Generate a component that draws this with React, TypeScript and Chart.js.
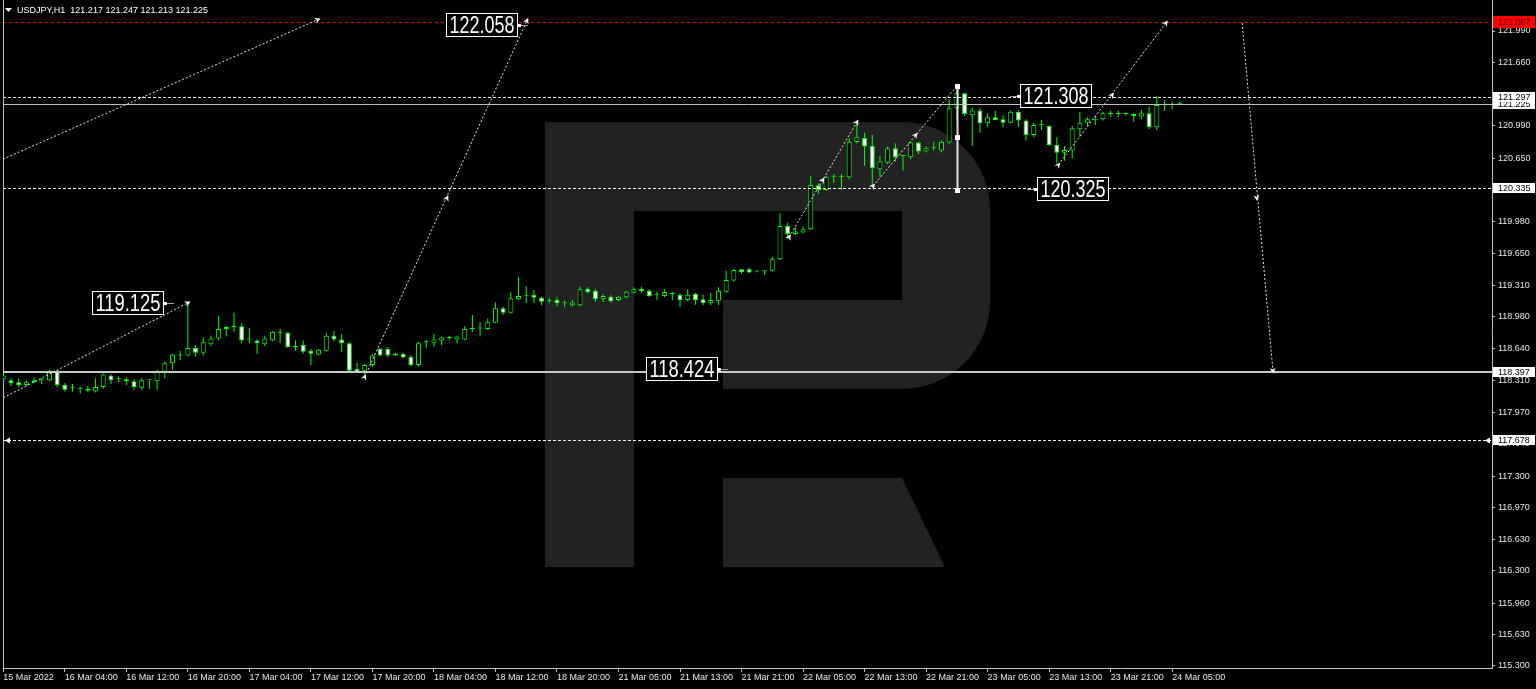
import React, { useEffect, useRef } from "react";
import { Chart, registerables } from "chart.js";

Chart.register(...registerables);

// ---------- data ----------
const symbolTitle = "USDJPY,H1  121.217 121.247 121.213 121.225";

const opens = [
  118.32, 118.31, 118.29, 118.26, 118.29, 118.31, 118.31, 118.41, 118.26, 118.23,
  118.22, 118.22, 118.19, 118.24, 118.36, 118.32, 118.32, 118.30, 118.23, 118.31,
  118.30, 118.40, 118.49, 118.57, 118.57, 118.65, 118.60, 118.69, 118.75, 118.85,
  118.87, 118.88, 118.74, 118.73, 118.69, 118.73, 118.81, 118.81, 118.67, 118.68,
  118.62, 118.58, 118.62, 118.78, 118.74, 118.70, 118.43, 118.41, 118.47, 118.64,
  118.64, 118.59, 118.59, 118.555, 118.47, 118.71, 118.70, 118.73, 118.755, 118.74,
  118.74, 118.85, 118.86, 118.85, 118.917, 119.068, 119.022, 119.163, 119.20, 119.208,
  119.18, 119.15, 119.155, 119.12, 119.10, 119.10, 119.275, 119.254, 119.163, 119.19,
  119.155, 119.184, 119.233, 119.275, 119.254, 119.212, 119.198, 119.233, 119.212, 119.155,
  119.219, 119.163, 119.12, 119.148, 119.243, 119.36, 119.479, 119.479, 119.455, 119.465,
  119.465, 119.585, 119.936, 119.852, 119.866, 119.90, 120.364, 120.315, 120.455, 120.455,
  120.448, 120.82, 120.863, 120.78, 120.533, 120.603, 120.754, 120.673, 120.659, 120.814,
  120.719, 120.754, 120.73, 120.814, 121.175, 121.333, 121.102, 121.151, 121.017, 121.081,
  121.06, 121.024, 121.14, 121.046, 120.894, 121.0, 120.989, 120.789, 120.708, 120.73,
  120.954, 121.024, 121.05, 121.06, 121.116, 121.116, 121.116, 121.116, 121.088, 121.123,
  120.975, 121.21, 121.21, 121.217,
];
const highs = [
  118.38, 118.33, 118.33, 118.31, 118.34, 118.33, 118.42, 118.42, 118.28, 118.27,
  118.24, 118.25, 118.33, 118.38, 118.37, 118.35, 118.34, 118.32, 118.33, 118.31,
  118.42, 118.51, 118.59, 118.62, 119.12, 118.68, 118.76, 118.78, 118.99, 118.88,
  119.02, 118.91, 118.86, 118.74, 118.78, 118.83, 118.85, 118.82, 118.73, 118.73,
  118.64, 118.64, 118.81, 118.83, 118.80, 118.71, 118.50, 118.48, 118.59, 118.65,
  118.66, 118.60, 118.60, 118.576, 118.717, 118.734, 118.80, 118.77, 118.776, 118.78,
  118.88, 118.998, 118.924, 118.96, 119.128, 119.085, 119.243, 119.401, 119.30, 119.26,
  119.19, 119.175, 119.19, 119.15, 119.155, 119.296, 119.29, 119.275, 119.22, 119.205,
  119.198, 119.254, 119.289, 119.296, 119.268, 119.243, 119.268, 119.236, 119.226, 119.268,
  119.233, 119.212, 119.233, 119.289, 119.465, 119.479, 119.479, 119.493, 119.465, 119.47,
  119.613, 120.07, 119.971, 119.922, 119.929, 120.463, 120.385, 120.463, 120.484, 120.484,
  120.86, 121.035, 120.919, 120.894, 120.673, 120.772, 120.807, 120.68, 120.824, 120.824,
  120.779, 120.824, 120.835, 121.27, 121.41, 121.34, 121.186, 121.175, 121.123, 121.151,
  121.10, 121.151, 121.151, 121.06, 121.025, 121.053, 120.996, 120.87, 120.779, 120.989,
  121.137, 121.081, 121.095, 121.137, 121.151, 121.151, 121.13, 121.123, 121.158, 121.193,
  121.305, 121.263, 121.245, 121.247,
];
const lows = [
  118.30, 118.25, 118.24, 118.25, 118.28, 118.27, 118.30, 118.24, 118.19, 118.19,
  118.17, 118.19, 118.18, 118.22, 118.27, 118.29, 118.26, 118.21, 118.21, 118.22,
  118.21, 118.33, 118.42, 118.52, 118.56, 118.56, 118.57, 118.67, 118.73, 118.77,
  118.82, 118.70, 118.70, 118.59, 118.67, 118.72, 118.70, 118.65, 118.62, 118.59,
  118.47, 118.57, 118.61, 118.72, 118.61, 118.40, 118.39, 118.34, 118.45, 118.56,
  118.55, 118.57, 118.54, 118.46, 118.453, 118.646, 118.664, 118.68, 118.734, 118.70,
  118.73, 118.82, 118.77, 118.84, 118.91, 118.998, 119.015, 119.155, 119.12, 119.12,
  119.10, 119.12, 119.09, 119.08, 119.085, 119.09, 119.226, 119.138, 119.134, 119.127,
  119.141, 119.17, 119.226, 119.226, 119.184, 119.156, 119.184, 119.156, 119.085, 119.141,
  119.106, 119.099, 119.099, 119.103, 119.233, 119.349, 119.43, 119.437, 119.444, 119.42,
  119.454, 119.578, 119.795, 119.841, 119.859, 119.894, 120.273, 120.308, 120.392, 120.315,
  120.427, 120.807, 120.568, 120.357, 120.455, 120.589, 120.614, 120.519, 120.638, 120.694,
  120.709, 120.73, 120.709, 120.80, 121.06, 121.095, 120.779, 120.919, 120.975, 121.046,
  120.975, 121.017, 120.982, 120.835, 120.87, 120.947, 120.779, 120.596, 120.624, 120.649,
  120.877, 120.989, 121.0, 121.046, 121.081, 121.081, 121.10, 121.035, 121.06, 120.954,
  120.947, 121.151, 121.165, 121.213,
];
const closes = [
  118.36, 118.28, 118.26, 118.29, 118.31, 118.31, 118.41, 118.26, 118.21, 118.23,
  118.22, 118.20, 118.24, 118.37, 118.31, 118.32, 118.30, 118.24, 118.31, 118.31,
  118.41, 118.49, 118.58, 118.57, 118.65, 118.60, 118.71, 118.75, 118.85, 118.87,
  118.87, 118.73, 118.74, 118.70, 118.75, 118.82, 118.81, 118.66, 118.66, 118.61,
  118.59, 118.63, 118.78, 118.74, 118.70, 118.41, 118.40, 118.47, 118.57, 118.57,
  118.57, 118.57, 118.55, 118.47, 118.70, 118.71, 118.74, 118.76, 118.755, 118.77,
  118.85, 118.85, 118.855, 118.92, 119.068, 119.022, 119.173, 119.198, 119.205, 119.18,
  119.138, 119.148, 119.12, 119.12, 119.13, 119.268, 119.24, 119.163, 119.198, 119.141,
  119.19, 119.243, 119.268, 119.247, 119.198, 119.21, 119.24, 119.215, 119.155, 119.212,
  119.155, 119.12, 119.155, 119.254, 119.366, 119.472, 119.451, 119.444, 119.455, 119.465,
  119.585, 119.936, 119.852, 119.876, 119.90, 120.368, 120.315, 120.455, 120.455, 120.46,
  120.824, 120.877, 120.772, 120.543, 120.614, 120.754, 120.659, 120.673, 120.814, 120.719,
  120.754, 120.757, 120.824, 121.175, 121.333, 121.116, 121.151, 121.017, 121.081, 121.053,
  121.024, 121.14, 121.046, 120.894, 121.0, 120.998, 120.789, 120.708, 120.736, 120.965,
  121.024, 121.06, 121.053, 121.123, 121.116, 121.12, 121.12, 121.095, 121.123, 120.975,
  121.21, 121.214, 121.214, 121.225,
];

const timeTickBars = [0, 8, 16, 24, 32, 40, 48, 56, 64, 72, 80, 88, 96, 104, 112, 120, 128, 136, 144, 152];
const timeTickLabels = [
  "15 Mar 2022", "16 Mar 04:00", "16 Mar 12:00", "16 Mar 20:00", "17 Mar 04:00",
  "17 Mar 12:00", "17 Mar 20:00", "18 Mar 04:00", "18 Mar 12:00", "18 Mar 20:00",
  "21 Mar 05:00", "21 Mar 13:00", "21 Mar 21:00", "22 Mar 05:00", "22 Mar 13:00",
  "22 Mar 21:00", "23 Mar 05:00", "23 Mar 13:00", "23 Mar 21:00", "24 Mar 05:00",
];
// visible price-scale ticks (121.320 / 120.320 are hidden under price tags)
const priceTicks = [
  121.99, 121.66, 120.99, 120.65, 119.98, 119.65, 119.31, 118.98,
  118.64, 118.31, 117.97, 117.64, 117.3, 116.97, 116.63, 116.3, 115.96, 115.63, 115.3,
];

// horizontal levels
const alertLevels = [122.087];
const dashedLevels = [121.297, 120.335, 117.678];
const bidLevels = [121.225];
const supportLevels = [118.397];
const alertTags = [122.087];
const plainTags = [121.225, 121.297, 120.335, 118.397, 117.678];

// forecast trend lines (bar index, price)
const trendFromBars = [-1, 0, 47, 102.2, 113.1, 137.2, 161.1];
const trendFromPrices = [120.605, 118.125, 118.345, 119.82, 120.357, 120.58, 122.075];
const trendToBars = [40.9, 24, 68.1, 111, 124, 151.2, 165.1];
const trendToPrices = [122.11, 119.125, 122.1, 121.03, 121.41, 122.075, 118.41];

// arrow marks on the trend lines
const arrowLine = [0, 1, 2, 2, 2, 3, 3, 3, 4, 4, 5, 5, 5, 6, 6];
const arrowBars = [40.9, 24, 47, 57.7, 68.1, 102.2, 106.55, 111, 113.1, 118.65, 137.2, 144.2, 151.2, 163.0, 165.1];
const arrowPrices = [122.11, 119.125, 118.345, 120.23, 122.1, 119.82, 120.42, 121.03, 120.357, 120.894, 120.58, 121.316, 122.075, 120.23, 118.41];

// selected vertical line with handles
const markerBars = [124];
const markerTopPrices = [121.41];
const markerMidPrices = [120.866];
const markerBottomPrices = [120.31];

// price text labels
const labelTexts = ["122.058", "119.125", "118.424", "121.308", "120.325"];
const labelBars = [57.57, 11.53, 83.58, 132.2, 134.42];
const labelPrices = [122.058, 119.125, 118.424, 121.308, 120.325];
const labelPointerRight = [true, true, true, false, false];

// ---------- component ----------
const FONT = '"Liberation Sans", Arial, sans-serif';

export default function App() {
  const ref = useRef<HTMLCanvasElement>(null);

  useEffect(() => {
    const canvas = ref.current;
    if (!canvas) return;
    const idx = opens.map((_, i) => i);
    const bodyFill = idx.map((i) => (closes[i] >= opens[i] ? "#000000" : "#ffffff"));

    const overlay = {
      id: "mt4overlay",
      beforeDraw(chart: any) {
        const ctx = chart.ctx as CanvasRenderingContext2D;
        ctx.save();
        ctx.fillStyle = "#000000";
        ctx.fillRect(0, 0, chart.width, chart.height);
        // watermark "R"
        ctx.fillStyle = "#222222";
        ctx.beginPath();
        ctx.moveTo(545, 122);
        ctx.lineTo(902, 122);
        ctx.arcTo(990, 122, 990, 210, 88);
        ctx.lineTo(990, 301);
        ctx.arcTo(990, 389, 902, 389, 88);
        ctx.lineTo(723, 389);
        ctx.lineTo(723, 300);
        ctx.lineTo(902, 300);
        ctx.lineTo(902, 211);
        ctx.lineTo(634, 211);
        ctx.lineTo(634, 567);
        ctx.lineTo(545, 567);
        ctx.closePath();
        ctx.fill();
        ctx.beginPath();
        ctx.moveTo(723, 478);
        ctx.lineTo(902, 478);
        ctx.lineTo(945, 567);
        ctx.lineTo(723, 567);
        ctx.closePath();
        ctx.fill();
        // left frame line
        const ca = chart.chartArea;
        ctx.strokeStyle = "#c0c0c0";
        ctx.lineWidth = 1;
        ctx.beginPath();
        ctx.moveTo(ca.left + 0.5, ca.top);
        ctx.lineTo(ca.left + 0.5, ca.bottom);
        ctx.stroke();
        ctx.restore();
      },
      afterDatasetsDraw(chart: any) {
        const ctx = chart.ctx as CanvasRenderingContext2D;
        const xs = chart.scales.x;
        const ys = chart.scales.y;
        const ca = chart.chartArea;
        const X = (b: number) => xs.getPixelForValue(b);
        const Y = (p: number) => ys.getPixelForValue(p);

        ctx.save();
        ctx.beginPath();
        ctx.rect(ca.left + 1, ca.top, ca.right - ca.left - 1, ca.bottom - ca.top);
        ctx.clip();

        const hline = (p: number, color: string, dash: number[], width: number) => {
          const y = Math.round(Y(p)) + (width % 2 ? 0.5 : 0);
          ctx.strokeStyle = color;
          ctx.lineWidth = width;
          ctx.setLineDash(dash);
          ctx.beginPath();
          ctx.moveTo(ca.left, y);
          ctx.lineTo(ca.right, y);
          ctx.stroke();
        };
        alertLevels.forEach((p) => hline(p, "#ff0000", [3, 3], 1));
        dashedLevels.forEach((p) => hline(p, "#ffffff", [3, 2], 1));
        bidLevels.forEach((p) => hline(p, "#c0c0c0", [], 1));
        supportLevels.forEach((p) => hline(p, "#c8c8c8", [], 2));

        // trend lines
        ctx.setLineDash([2, 2]);
        ctx.strokeStyle = "#e8e8e8";
        ctx.lineWidth = 1;
        for (let i = 0; i < trendFromBars.length; i++) {
          ctx.beginPath();
          ctx.moveTo(X(trendFromBars[i]), Y(trendFromPrices[i]));
          ctx.lineTo(X(trendToBars[i]), Y(trendToPrices[i]));
          ctx.stroke();
        }
        ctx.setLineDash([]);

        // arrows
        ctx.fillStyle = "#ffffff";
        for (let k = 0; k < arrowBars.length; k++) {
          const li = arrowLine[k];
          const dx = X(trendToBars[li]) - X(trendFromBars[li]);
          const dy = Y(trendToPrices[li]) - Y(trendFromPrices[li]);
          const len = Math.hypot(dx, dy) || 1;
          const ux = dx / len;
          const uy = dy / len;
          const px = X(arrowBars[k]);
          const py = Y(arrowPrices[k]);
          ctx.beginPath();
          ctx.moveTo(px + ux * 3, py + uy * 3);
          ctx.lineTo(px - ux * 3 - uy * 3, py - uy * 3 + ux * 3);
          ctx.lineTo(px - ux * 1, py - uy * 1);
          ctx.lineTo(px - ux * 3 + uy * 3, py - uy * 3 - ux * 3);
          ctx.closePath();
          ctx.fill();
        }

        // arrows on lowest dashed level
        const ly = Math.round(Y(dashedLevels[2])) + 0.5;
        ctx.beginPath();
        ctx.moveTo(ca.left + 2, ly);
        ctx.lineTo(ca.left + 7, ly - 3);
        ctx.lineTo(ca.left + 7, ly + 3);
        ctx.closePath();
        ctx.fill();
        ctx.beginPath();
        ctx.moveTo(ca.right - 7, ly);
        ctx.lineTo(ca.right - 2, ly - 3);
        ctx.lineTo(ca.right - 2, ly + 3);
        ctx.closePath();
        ctx.fill();

        // selected vertical line with handles
        for (let i = 0; i < markerBars.length; i++) {
          const mx = Math.round(X(markerBars[i])) + 0.5;
          ctx.strokeStyle = "#e0e0e0";
          ctx.lineWidth = 2;
          ctx.beginPath();
          ctx.moveTo(mx, Y(markerTopPrices[i]));
          ctx.lineTo(mx, Y(markerBottomPrices[i]));
          ctx.stroke();
          ctx.fillStyle = "#ffffff";
          [markerTopPrices[i], markerMidPrices[i], markerBottomPrices[i]].forEach((p) => {
            ctx.fillRect(Math.round(mx - 2.5), Math.round(Y(p) - 2.5), 5, 5);
          });
        }

        // price text labels
        const boxW = 72;
        const boxH = 24;
        for (let i = 0; i < labelTexts.length; i++) {
          const left = Math.round(X(labelBars[i]));
          const cy = Math.round(Y(labelPrices[i]));
          const top = cy - boxH / 2;
          ctx.fillStyle = "#000000";
          ctx.fillRect(left, top, boxW, boxH);
          ctx.strokeStyle = "#ffffff";
          ctx.lineWidth = 1;
          ctx.strokeRect(left + 0.5, top + 0.5, boxW - 1, boxH - 1);
          ctx.font = `24px ${FONT}`;
          const w = ctx.measureText(labelTexts[i]).width;
          ctx.save();
          ctx.translate(left + boxW / 2, cy + 1);
          ctx.scale((boxW - 7) / w, 1);
          ctx.textAlign = "center";
          ctx.textBaseline = "middle";
          ctx.fillStyle = "#ffffff";
          ctx.fillText(labelTexts[i], 0, 0);
          ctx.restore();
          // pointer
          ctx.fillStyle = "#ffffff";
          if (labelPointerRight[i]) {
            ctx.fillRect(left + boxW, cy - 1, 3, 3);
            ctx.fillStyle = "#a0a0a0";
            ctx.fillRect(left + boxW + 3, cy, 7, 1);
          } else {
            ctx.fillRect(left - 3, cy - 1, 3, 3);
            ctx.fillStyle = "#a0a0a0";
            ctx.fillRect(left - 10, cy, 7, 1);
          }
        }
        ctx.restore();

        // right axis price tags
        ctx.save();
        ctx.font = `9px ${FONT}`;
        ctx.textBaseline = "middle";
        ctx.textAlign = "left";
        const tag = (p: number, bg: string, fg: string, h: number) => {
          const cy = Math.round(Y(p));
          ctx.fillStyle = bg;
          ctx.fillRect(ca.right + 1, cy - Math.floor(h / 2), 42, h);
          ctx.fillStyle = fg;
          ctx.fillText(p.toFixed(3), ca.right + 6, cy + 0.5);
        };
        alertTags.forEach((p) => tag(p, "#ff0000", "#500000", 12));
        plainTags.forEach((p) => tag(p, "#ffffff", "#000000", 10));

        // header
        ctx.fillStyle = "#ffffff";
        ctx.beginPath();
        ctx.moveTo(5, 8);
        ctx.lineTo(12, 8);
        ctx.lineTo(8.5, 12);
        ctx.closePath();
        ctx.fill();
        ctx.fillText(symbolTitle, 17, 10.5);
        ctx.restore();
      },
    };

    const chart = new Chart(canvas, {
      type: "bar",
      data: {
        datasets: [
          {
            label: "wicks",
            data: idx.map((i) => ({ x: i, y: [lows[i], highs[i]] })) as any,
            backgroundColor: "#00ff00",
            borderWidth: 0,
            barThickness: 1,
            grouped: false,
            order: 2,
            inflateAmount: 0,
          } as any,
          {
            label: "bodies",
            data: idx.map((i) => ({ x: i, y: [opens[i], closes[i]] })) as any,
            backgroundColor: bodyFill,
            borderColor: "#00ff00",
            borderWidth: 1,
            borderSkipped: false,
            barThickness: 5,
            minBarLength: 1,
            grouped: false,
            order: 1,
            inflateAmount: 0,
          } as any,
        ],
      },
      options: {
        animation: false,
        responsive: false,
        devicePixelRatio: 1,
        events: [],
        layout: { padding: { left: 3, top: 0, right: 0, bottom: 0 }, autoPadding: false } as any,
        plugins: { legend: { display: false }, tooltip: { enabled: false } },
        scales: {
          x: {
            type: "linear",
            position: "bottom",
            min: -0.039,
            max: 193.59,
            offset: false,
            grid: {
              offset: false,
              drawOnChartArea: false,
              drawTicks: true,
              tickLength: 4,
              color: "#c0c0c0",
            },
            border: { display: true, color: "#c0c0c0" },
            ticks: {
              autoSkip: false,
              maxRotation: 0,
              minRotation: 0,
              align: "start",
              padding: 0,
              color: "#e8e8e8",
              font: { family: FONT, size: 9 },
              callback: (_v: any, i: number) => timeTickLabels[i] ?? "",
            },
            afterBuildTicks: (s: any) => {
              s.ticks = timeTickBars.map((v) => ({ value: v }));
            },
            afterFit: (s: any) => {
              s.height = 21;
              s.paddingLeft = 0;
              s.paddingRight = 0;
            },
          } as any,
          y: {
            type: "linear",
            position: "right",
            min: 115.2777,
            max: 122.3167,
            grid: {
              drawOnChartArea: false,
              drawTicks: true,
              tickLength: 3,
              color: "#c0c0c0",
            },
            border: { display: true, color: "#c0c0c0" },
            ticks: {
              autoSkip: false,
              padding: 3,
              color: "#e8e8e8",
              font: { family: FONT, size: 9 },
              callback: (v: any) => Number(v).toFixed(3),
            },
            afterBuildTicks: (s: any) => {
              s.ticks = priceTicks.map((v) => ({ value: v }));
            },
            afterFit: (s: any) => {
              s.width = 44;
              s.paddingTop = 0;
              s.paddingBottom = 0;
            },
          } as any,
        },
      },
      plugins: [overlay],
    });
    return () => chart.destroy();
  }, []);

  return (
    <div style={{ position: "fixed", left: 0, top: 0, width: 1536, height: 689, background: "#000" }}>
      <canvas ref={ref} width={1536} height={689} style={{ display: "block", width: 1536, height: 689 }} />
    </div>
  );
}
